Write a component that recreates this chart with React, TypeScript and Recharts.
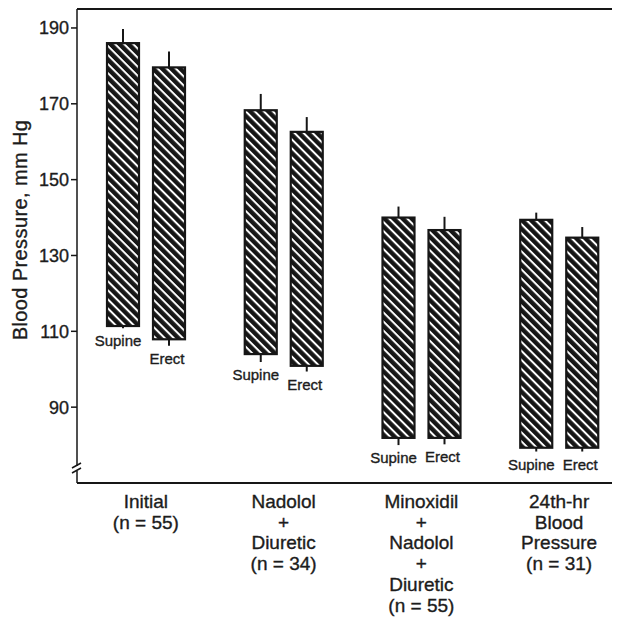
import React from "react"
import { BarChart, Bar, XAxis, YAxis, ReferenceLine } from "recharts"

const groups = ["Initial", "Nadolol", "Minoxidil", "24th-hr"]
const groupLines = [
  ["Initial", "(n = 55)"],
  ["Nadolol", "+", "Diuretic", "(n = 34)"],
  ["Minoxidil", "+", "Nadolol", "+", "Diuretic", "(n = 55)"],
  ["24th-hr", "Blood", "Pressure", "(n = 31)"],
]

// mean systolic (top) / diastolic (bottom) and the ends of the SE whiskers, mm Hg
const supineHigh = [186, 168.3, 140, 139.4]
const supineLow = [111.4, 104, 81.9, 79.3]
const supineErrHigh = [189.7, 172.6, 142.9, 141.3]
const supineErrLow = [110.8, 101.9, 80, 78.3]

const erectHigh = [179.6, 162.6, 136.7, 134.7]
const erectLow = [107.9, 100.9, 81.9, 79.3]
const erectErrHigh = [183.8, 166.5, 140.2, 137.5]
const erectErrLow = [106.2, 99.4, 80.2, 78.3]

const yTicks = [90, 110, 130, 150, 170, 190]

const data = groups.map((name, i) => ({
  name,
  supine: [supineLow[i], supineHigh[i]],
  erect: [erectLow[i], erectHigh[i]],
  supineErr: [supineErrLow[i], supineErrHigh[i]],
  erectErr: [erectErrLow[i], erectErrHigh[i]],
}))

const ink = "#161616"
const textInk = "#1c1c1c"
const font = "'Liberation Sans', Arial, Helvetica, sans-serif"

function HatchBar(props: any) {
  const { x, y, width, height, payload, kind, label, dx } = props
  const [low, high] = payload[kind]
  const [eLow, eHigh] = payload[kind + "Err"]
  const top = Math.min(y, y + height)
  const h = Math.abs(height)
  const k = h / (high - low)
  const cx = x + width / 2
  const errTop = top - (eHigh - high) * k
  const errBottom = top + h + (low - eLow) * k
  return (
    <g>
      <rect x={x} y={top} width={width} height={h} fill="url(#hatch)" stroke={ink} strokeWidth={2.2} />
      <line x1={cx} x2={cx} y1={errTop} y2={top} stroke={ink} strokeWidth={2} />
      <line x1={cx} x2={cx} y1={top + h} y2={errBottom} stroke={ink} strokeWidth={2} />
      <text
        x={cx + dx}
        y={errBottom + 18}
        textAnchor="middle"
        fontSize={15}
        fill={textInk}
        stroke={textInk}
        strokeWidth={0.35}
        fontFamily={font}
      >
        {label}
      </text>
    </g>
  )
}

function GroupTick(props: any) {
  const { x, y, payload } = props
  const lines = groupLines[payload.index] || [payload.value]
  return (
    <text
      x={x}
      y={y + 17}
      textAnchor="middle"
      fontSize={19}
      fill={textInk}
      stroke={textInk}
      strokeWidth={0.35}
      fontFamily={font}
    >
      {lines.map((l, i) => (
        <tspan key={i} x={x} dy={i === 0 ? 0 : 20.7}>
          {l}
        </tspan>
      ))}
    </text>
  )
}

function YTitle(props: any) {
  const vb = props.viewBox
  const cx = 12
  const cy = vb.y + vb.height / 2 - 16
  return (
    <text
      x={cx}
      y={cy}
      transform={`rotate(-90 ${cx} ${cy})`}
      textAnchor="middle"
      dominantBaseline="central"
      fontSize={20}
      letterSpacing={0.4}
      fill={textInk}
      stroke={textInk}
      strokeWidth={0.35}
      fontFamily={font}
    >
      Blood Pressure, mm Hg
    </text>
  )
}

export default function App() {
  return (
    <div style={{ position: "relative", width: 612, height: 612, overflow: "hidden", fontFamily: font, background: "#fff" }}>
      <svg width={0} height={0} style={{ position: "absolute" }}>
        <defs>
          <pattern id="hatch" width={6.4} height={6.4} patternUnits="userSpaceOnUse" patternTransform="rotate(45)">
            <rect width={6.4} height={6.4} fill={ink} />
            <rect y={0} width={6.4} height={2} fill="#fff" />
          </pattern>
        </defs>
      </svg>
      <BarChart
        width={622}
        height={612}
        data={data}
        margin={{ top: 1, right: 2, bottom: 0, left: 0 }}
        barSize={32}
        barGap={14}
      >
        <XAxis
          dataKey="name"
          height={137}
          tickLine={false}
          axisLine={{ stroke: ink, strokeWidth: 2 }}
          tick={<GroupTick />}
          interval={0}
        />
        <YAxis
          width={69}
          domain={[70, 195]}
          ticks={yTicks}
          allowDataOverflow
          tickSize={6}
          tickLine={{ stroke: ink, strokeWidth: 1.5 }}
          axisLine={{ stroke: ink, strokeWidth: 1.5 }}
          tick={{ fontSize: 18, fill: textInk, stroke: textInk, strokeWidth: 0.35, fontFamily: font }}
          label={<YTitle />}
        />
        <ReferenceLine y={195} stroke={ink} strokeWidth={2} />
        <Bar
          dataKey="supine"
          isAnimationActive={false}
          shape={(p: any) => <HatchBar {...p} kind="supine" label="Supine" dx={-5} />}
        />
        <Bar
          dataKey="erect"
          isAnimationActive={false}
          shape={(p: any) => <HatchBar {...p} kind="erect" label="Erect" dx={-2} />}
        />
      </BarChart>
      <svg width={20} height={20} style={{ position: "absolute", left: 59, top: 450 }}>
        <rect x={8} y={8} width={4} height={5} fill="#fff" />
        <line x1={5} y1={10} x2={14} y2={5} stroke={ink} strokeWidth={1.5} />
        <line x1={5} y1={15} x2={14} y2={10} stroke={ink} strokeWidth={1.5} />
      </svg>
    </div>
  )
}
